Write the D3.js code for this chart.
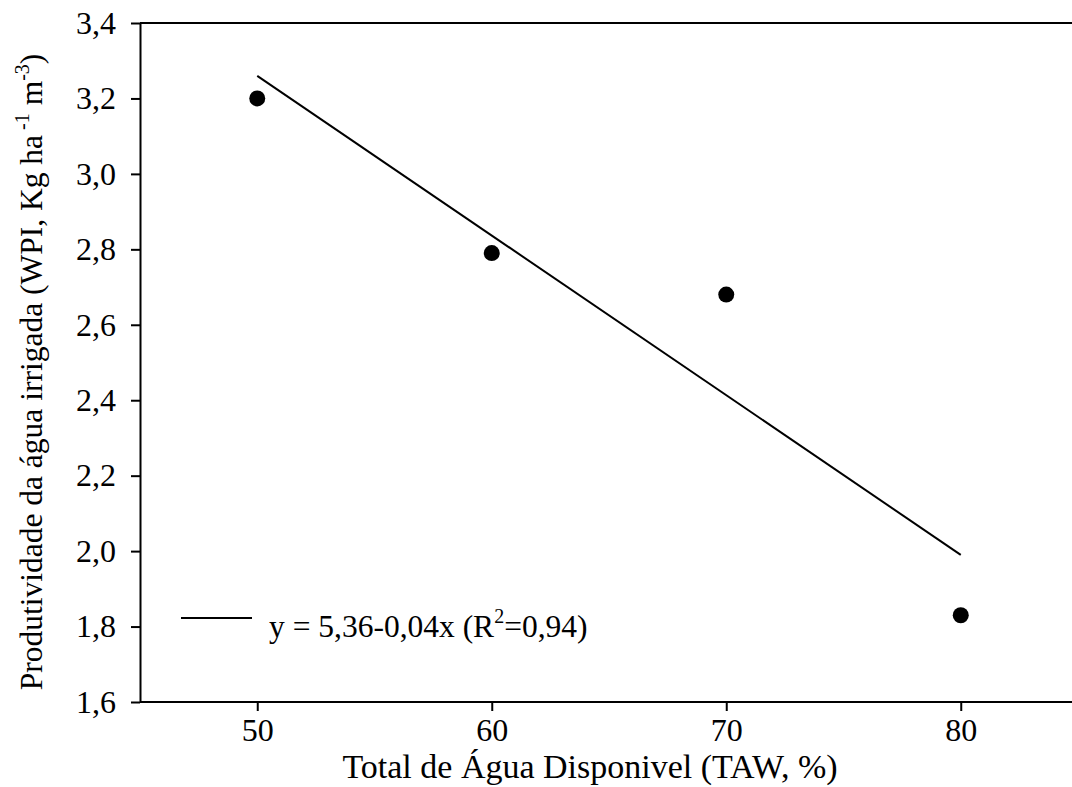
<!DOCTYPE html>
<html>
<head>
<meta charset="utf-8">
<script src="https://cdn.jsdelivr.net/npm/d3@7"></script>
<style>
  body { margin: 0; background: #fff; }
  svg text { font-family: "Liberation Serif", "Times New Roman", Times, "DejaVu Serif", serif; fill: #000; }
</style>
</head>
<body>
<div id="chart"></div>
<script>
const tawValues = [50, 60, 70, 80];
const wpiValues = [3.2, 2.79, 2.68, 1.83];
const fitX = [50, 80];
const fitY = [3.26, 1.99];
const xTicks = [50, 60, 70, 80];
const yTicks = [1.6, 1.8, 2.0, 2.2, 2.4, 2.6, 2.8, 3.0, 3.2, 3.4];

const w = 1072;
const h = 787;
const padLeft = 140;
const padTop = 23;
const axisBottom = 702;
const axisRight = 1078;
const serif = '"Liberation Serif", "Times New Roman", Times, serif';

const svg = d3.select("#chart").append("svg")
  .attr("width", w)
  .attr("height", h)
  .attr("font-family", serif);

const x = d3.scaleLinear().domain([45, 85]).range([padLeft, axisRight]);
const y = d3.scaleLinear().domain([1.6, 3.4]).range([axisBottom, padTop]);

const fmt = (d) => d3.format(".1f")(d).replace(".", ",");

// frame top line
svg.append("line")
  .attr("x1", padLeft).attr("x2", w)
  .attr("y1", padTop).attr("y2", padTop)
  .attr("stroke", "#000").attr("stroke-width", 2);

const xAxis = svg.append("g")
  .attr("transform", `translate(0,${axisBottom})`)
  .call(d3.axisBottom(x).tickValues(xTicks).tickSize(9).tickSizeOuter(0).tickPadding(7));
const yAxis = svg.append("g")
  .attr("transform", `translate(${padLeft},0)`)
  .call(d3.axisLeft(y).tickValues(yTicks).tickFormat(fmt).tickSize(9).tickSizeOuter(0).tickPadding(15));

[xAxis, yAxis].forEach((g) => {
  g.attr("font-family", serif).attr("font-size", 32);
  g.select(".domain").attr("stroke-width", 2);
  g.selectAll(".tick line").attr("stroke-width", 2);
  g.selectAll("text").attr("font-size", 32).attr("font-family", serif);
});
xAxis.select(".domain").attr("d", `M${padLeft},0H${w}`);

// regression line
svg.append("line")
  .attr("x1", x(fitX[0])).attr("y1", y(fitY[0]))
  .attr("x2", x(fitX[1])).attr("y2", y(fitY[1]))
  .attr("stroke", "#000").attr("stroke-width", 2);

// points
svg.selectAll("circle")
  .data(tawValues)
  .enter()
  .append("circle")
  .attr("cx", (d) => x(d))
  .attr("cy", (d, i) => y(wpiValues[i]))
  .attr("r", 8)
  .attr("fill", "#000");

// legend
svg.append("line")
  .attr("x1", 181).attr("x2", 252)
  .attr("y1", 618).attr("y2", 618)
  .attr("stroke", "#000").attr("stroke-width", 2);
const leg = svg.append("text")
  .attr("x", 269).attr("y", 637)
  .attr("font-size", 31.5);
leg.append("tspan").text("y = 5,36-0,04x (R");
leg.append("tspan").attr("dy", -14).attr("font-size", 20).text("2");
leg.append("tspan").attr("dy", 14).text("=0,94)");

// x label
svg.append("text")
  .attr("x", 590).attr("y", 778)
  .attr("text-anchor", "middle")
  .attr("font-size", 34)
  .text("Total de Água Disponivel (TAW, %)");

// y label
const yl = svg.append("text")
  .attr("transform", "translate(42,372) rotate(-90)")
  .attr("text-anchor", "middle")
  .attr("font-size", 31.5);
yl.append("tspan").text("Produtividade da água irrigada (WPI, Kg ha");
yl.append("tspan").attr("dy", -13).attr("font-size", 20).text(" -1");
yl.append("tspan").attr("dy", 13).text("  m");
yl.append("tspan").attr("dy", -13).attr("font-size", 20).text("-3");
yl.append("tspan").attr("dy", 13).text(")");
</script>
</body>
</html>
